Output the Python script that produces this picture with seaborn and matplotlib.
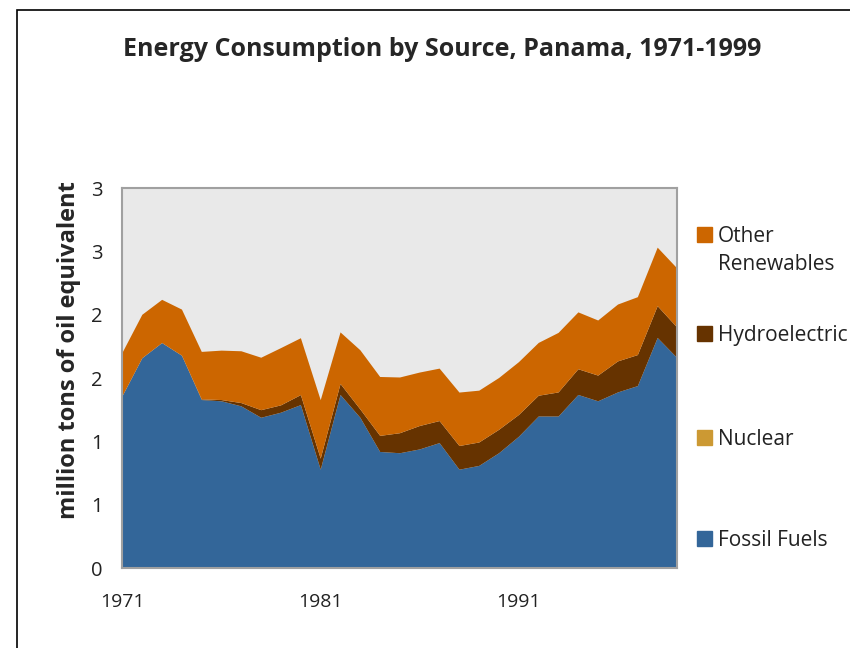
import numpy as np
import matplotlib.pyplot as plt
import seaborn as sns
from matplotlib.patches import Rectangle

# Data (million tons of oil equivalent)
years = list(range(1971, 2000))
fossil = [1.36, 1.66, 1.78, 1.68, 1.33, 1.32, 1.28, 1.19, 1.23, 1.29,
          0.78, 1.37, 1.19, 0.92, 0.91, 0.94, 0.99, 0.78, 0.81, 0.91,
          1.04, 1.20, 1.20, 1.37, 1.32, 1.39, 1.44, 1.82, 1.66]
nuclear = [0.0] * 29
hydro = [0.0, 0.0, 0.0, 0.0, 0.005, 0.01, 0.026, 0.06, 0.058, 0.079,
         0.087, 0.087, 0.066, 0.127, 0.158, 0.185, 0.174, 0.187, 0.185, 0.185,
         0.172, 0.164, 0.190, 0.203, 0.203, 0.245, 0.245, 0.251, 0.240]
other = [0.343, 0.343, 0.341, 0.364, 0.375, 0.39, 0.409, 0.414, 0.452, 0.449,
         0.462, 0.407, 0.467, 0.465, 0.44, 0.422, 0.414, 0.422, 0.409, 0.409,
         0.417, 0.417, 0.47, 0.449, 0.435, 0.449, 0.457, 0.462, 0.467]
series_names = ["Fossil Fuels", "Nuclear", "Hydroelectric", "Other\nRenewables"]
colors = ["#336699", "#CC9933", "#663300", "#CC6600"]
y_ticks = [0, 0.5, 1.0, 1.5, 2.0, 2.5, 3.0]
y_tick_labels = ["0", "1", "1", "2", "2", "3", "3"]
x_ticks = [1971, 1981, 1991]

sns.set_style("white")
plt.rcParams["font.family"] = ["Open Sans", "DejaVu Sans"]

fig = plt.figure(figsize=(8.5, 6.48), dpi=100)
ax = fig.add_axes([122 / 850, 1 - 568 / 648, 555 / 850, 380 / 648])

ax.stackplot(years, fossil, nuclear, hydro, other, colors=colors, linewidth=0)
ax.set_facecolor("#E9E9E9")
ax.set_xlim(1971, 1999)
ax.set_ylim(0, 3)
for s in ax.spines.values():
    s.set_color("#A0A0A0")
    s.set_linewidth(1.5)

ax.set_yticks(y_ticks)
ax.set_yticklabels(y_tick_labels, fontsize=14.5)
ax.set_xticks(x_ticks)
ax.set_xticklabels([str(x) for x in x_ticks], fontsize=14)
ax.tick_params(axis="both", length=0, colors="#222222")
ax.tick_params(axis="y", pad=14)
ax.tick_params(axis="x", pad=18)
ax.set_ylabel("million tons of oil equivalent", fontsize=17, fontweight="bold")
ax.yaxis.set_label_coords(-0.074, 0.574)

fig.text(442 / 850, 1 - 49 / 648, "Energy Consumption by Source, Panama, 1971-1999",
         ha="center", va="center", fontsize=18, fontweight="bold")

# legend, drawn by hand to match spacing
legend_y = [234, 333, 437, 538]
for name, col, ly in zip(reversed(series_names), reversed(colors), legend_y):
    fig.patches.append(Rectangle((697 / 850, 1 - (ly + 8) / 648), 15 / 850, 15 / 648,
                                 transform=fig.transFigure, color=col))
    fig.text(718 / 850, 1 - (ly - 8) / 648, name, ha="left", va="top",
             fontsize=15, color="#222222", linespacing=1.45)

# outer frame (only left and top visible in the reference)
fig.patches.append(Rectangle((17 / 850, -0.1), 1.2, 1 - 10 / 648 + 0.1,
                             transform=fig.transFigure, fill=False,
                             edgecolor="black", linewidth=1.2))

fig.savefig("out.png", dpi=100)
